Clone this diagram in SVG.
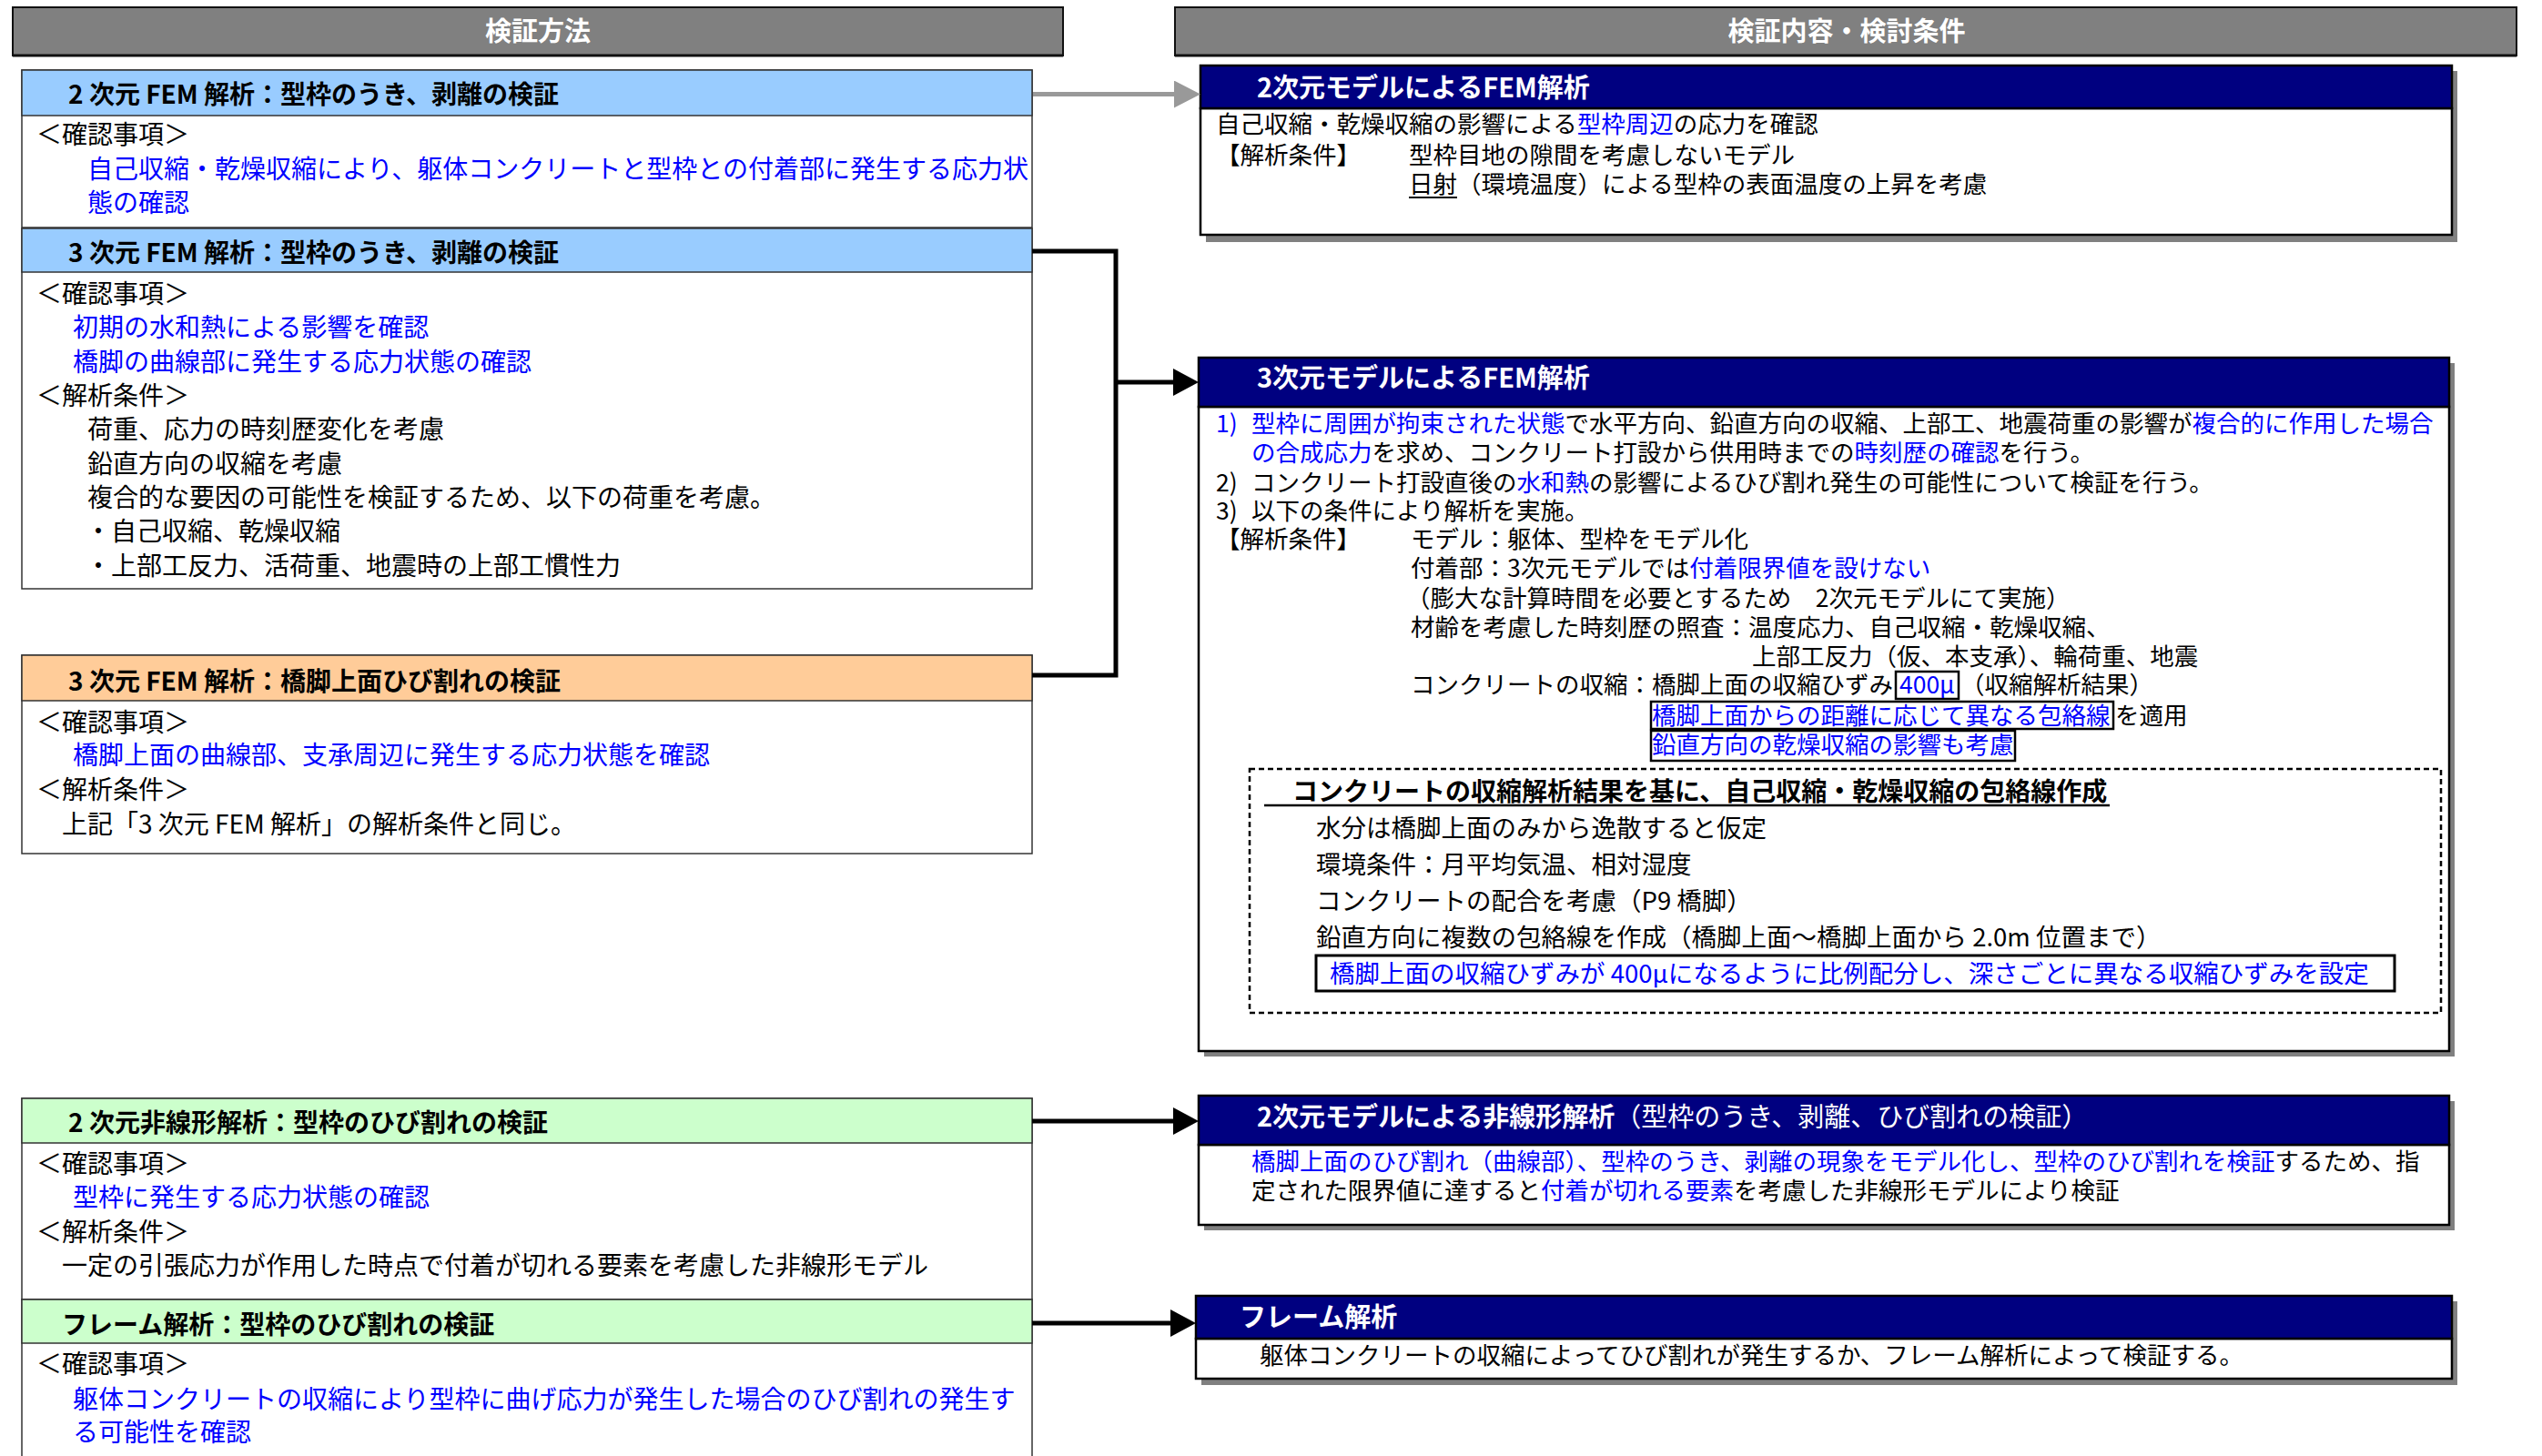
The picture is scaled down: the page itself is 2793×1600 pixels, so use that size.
<svg xmlns="http://www.w3.org/2000/svg" width="2793" height="1600" viewBox="0 0 2793 1600">
<style>
text{font-family:"Noto Sans CJK JP","Noto Sans",sans-serif;fill:#000}
.top{font-size:29px;font-weight:bold;fill:#fff;text-anchor:middle}
.lh{font-size:28px;font-weight:bold}
.lb{font-size:28px}
.rh{font-size:29px;font-weight:bold;fill:#fff}
.rb{font-size:26.5px}
.db{font-size:27.5px}
.dh{font-size:28px;font-weight:bold}
.bl{fill:#0000ff}
.wn{font-weight:normal;fill:#fff}
.bar{fill:#808080;stroke:#111;stroke-width:2}
.lbox{stroke:#333;stroke-width:1.5}
.shadow{fill:#808080}
.navy{fill:#000080;stroke:#000;stroke-width:2.5}
.body{fill:#fff;stroke:#000;stroke-width:2.5}
.frame{fill:none;stroke:#000;stroke-width:2.5}
.conn{fill:none;stroke:#000;stroke-width:5}
</style>
<defs>
<marker id="ah" markerUnits="userSpaceOnUse" markerWidth="28" markerHeight="30" refX="0" refY="15" orient="auto"><path d="M0,0 L28,15 L0,30 Z" fill="#000"/></marker>
<marker id="ahg" markerUnits="userSpaceOnUse" markerWidth="29" markerHeight="30" refX="0" refY="15" orient="auto"><path d="M0,0 L29,15 L0,30 Z" fill="#999"/></marker>
</defs>
<rect width="2793" height="1600" fill="#fff"/>

<g id="header-left">
<rect class="bar" x="14" y="8" width="1154" height="53"/>
<line x1="14" y1="61" x2="1168" y2="61" stroke="#111" stroke-width="3"/>
<text class="top" x="591" y="45">検証方法</text>
</g>
<g id="header-right">
<rect class="bar" x="1291" y="8" width="1474" height="53"/>
<line x1="1291" y1="61" x2="2765" y2="61" stroke="#111" stroke-width="3"/>
<text class="top" x="2029" y="45">検証内容・検討条件</text>
</g>

<g id="box-2d-fem">
<rect class="lbox" x="24" y="77" width="1110" height="173" fill="#fff"/>
<rect class="lbox" x="24" y="77" width="1110" height="50" fill="#99ccff"/>
<text class="lh" x="75" y="114">2 次元 FEM 解析：型枠のうき、剥離の検証</text>
<text class="lb" x="40" y="158">＜確認事項＞</text>
<text class="lb bl" x="96" y="196">自己収縮・乾燥収縮により、躯体コンクリートと型枠との付着部に発生する応力状</text>
<text class="lb bl" x="96" y="233">態の確認</text>
</g>

<g id="box-3d-fem-uki">
<rect class="lbox" x="24" y="251" width="1110" height="396" fill="#fff"/>
<rect class="lbox" x="24" y="251" width="1110" height="48" fill="#99ccff"/>
<text class="lh" x="75" y="288">3 次元 FEM 解析：型枠のうき、剥離の検証</text>
<text class="lb" x="40" y="333">＜確認事項＞</text>
<text class="lb bl" x="80" y="370">初期の水和熱による影響を確認</text>
<text class="lb bl" x="80" y="408">橋脚の曲線部に発生する応力状態の確認</text>
<text class="lb" x="40" y="445">＜解析条件＞</text>
<text class="lb" x="96" y="482">荷重、応力の時刻歴変化を考慮</text>
<text class="lb" x="96" y="520">鉛直方向の収縮を考慮</text>
<text class="lb" x="96" y="557">複合的な要因の可能性を検証するため、以下の荷重を考慮。</text>
<text class="lb" x="94" y="594">・自己収縮、乾燥収縮</text>
<text class="lb" x="94" y="632">・上部工反力、活荷重、地震時の上部工慣性力</text>
</g>

<g id="box-3d-fem-crack">
<rect class="lbox" x="24" y="720" width="1110" height="218" fill="#fff"/>
<rect class="lbox" x="24" y="720" width="1110" height="50" fill="#ffcc99"/>
<text class="lh" x="75" y="759">3 次元 FEM 解析：橋脚上面ひび割れの検証</text>
<text class="lb" x="40" y="804">＜確認事項＞</text>
<text class="lb bl" x="80" y="840">橋脚上面の曲線部、支承周辺に発生する応力状態を確認</text>
<text class="lb" x="40" y="878">＜解析条件＞</text>
<text class="lb" x="68" y="916">上記「3 次元 FEM 解析」の解析条件と同じ。</text>
</g>

<g id="box-2d-nonlinear">
<rect class="lbox" x="24" y="1207" width="1110" height="221" fill="#fff"/>
<rect class="lbox" x="24" y="1207" width="1110" height="49" fill="#ccffcc"/>
<text class="lh" x="75" y="1244">2 次元非線形解析：型枠のひび割れの検証</text>
<text class="lb" x="40" y="1289">＜確認事項＞</text>
<text class="lb bl" x="80" y="1326">型枠に発生する応力状態の確認</text>
<text class="lb" x="40" y="1364">＜解析条件＞</text>
<text class="lb" x="68" y="1401">一定の引張応力が作用した時点で付着が切れる要素を考慮した非線形モデル</text>
</g>

<g id="box-frame">
<rect class="lbox" x="24" y="1428" width="1110" height="190" fill="#fff"/>
<rect class="lbox" x="24" y="1428" width="1110" height="48" fill="#ccffcc"/>
<text class="lh" x="68" y="1466">フレーム解析：型枠のひび割れの検証</text>
<text class="lb" x="40" y="1509">＜確認事項＞</text>
<text class="lb bl" x="80" y="1548">躯体コンクリートの収縮により型枠に曲げ応力が発生した場合のひび割れの発生す</text>
<text class="lb bl" x="80" y="1584">る可能性を確認</text>
</g>

<g id="res-2d-fem">
<rect class="shadow" x="1325" y="78" width="1375" height="188"/>
<rect class="body" x="1319" y="119" width="1375" height="139"/>
<rect class="navy" x="1319" y="72" width="1375" height="47"/>
<text class="rh" x="1381" y="107">2次元モデルによるFEM解析</text>
<text class="rb" x="1336" y="146">自己収縮・乾燥収縮の影響による<tspan class="bl">型枠周辺</tspan>の応力を確認</text>
<text class="rb" x="1336" y="180">【解析条件】</text>
<text class="rb" x="1548" y="180">型枠目地の隙間を考慮しないモデル</text>
<text class="rb" x="1548" y="212">日射（環境温度）による型枠の表面温度の上昇を考慮</text>
<line x1="1548" y1="217" x2="1601" y2="217" stroke="#000" stroke-width="2"/>
</g>

<g id="res-3d-fem">
<rect class="shadow" x="1323" y="399" width="1374" height="762"/>
<rect class="body" x="1317" y="447" width="1374" height="708"/>
<rect class="navy" x="1317" y="393" width="1374" height="54"/>
<text class="rh" x="1381" y="426">3次元モデルによるFEM解析</text>
<text class="rb bl" x="1336" y="475">1)</text>
<text class="rb" x="1375" y="475"><tspan class="bl">型枠に周囲が拘束された状態</tspan>で水平方向、鉛直方向の収縮、上部工、地震荷重の影響が<tspan class="bl">複合的に作用した場合</tspan></text>
<text class="rb" x="1375" y="507"><tspan class="bl">の合成応力</tspan>を求め、コンクリート打設から供用時までの<tspan class="bl">時刻歴の確認</tspan>を行う。</text>
<text class="rb" x="1336" y="540">2)</text>
<text class="rb" x="1375" y="540">コンクリート打設直後の<tspan class="bl">水和熱</tspan>の影響によるひび割れ発生の可能性について検証を行う。</text>
<text class="rb" x="1336" y="571">3)</text>
<text class="rb" x="1375" y="571">以下の条件により解析を実施。</text>
<text class="rb" x="1336" y="602">【解析条件】</text>
<text class="rb" x="1550" y="602">モデル：躯体、型枠をモデル化</text>
<text class="rb" x="1550" y="634">付着部：3次元モデルでは<tspan class="bl">付着限界値を設けない</tspan></text>
<text class="rb" x="1545" y="667">（膨大な計算時間を必要とするため　2次元モデルにて実施）</text>
<text class="rb" x="1550" y="699">材齢を考慮した時刻歴の照査：温度応力、自己収縮・乾燥収縮、</text>
<text class="rb" x="1925" y="731">上部工反力（仮、本支承）、輪荷重、地震</text>
<text class="rb" x="1550" y="762">コンクリートの収縮：橋脚上面の収縮ひずみ</text>
<rect class="frame" x="2083" y="738" width="69" height="30"/>
<text class="rb bl" x="2087" y="762">400μ</text>
<text class="rb" x="2154" y="762">（収縮解析結果）</text>
<rect class="frame" x="1814" y="771" width="508" height="30"/>
<text class="rb bl" x="1815" y="796">橋脚上面からの距離に応じて異なる包絡線</text>
<text class="rb" x="2324" y="796">を適用</text>
<rect class="frame" x="1814" y="803" width="400" height="33"/>
<text class="rb bl" x="1815" y="828">鉛直方向の乾燥収縮の影響も考慮</text>
<rect x="1373" y="845" width="1309" height="268" fill="none" stroke="#000" stroke-width="2.5" stroke-dasharray="6 4"/>
<text class="dh" x="1420" y="880">コンクリートの収縮解析結果を基に、自己収縮・乾燥収縮の包絡線作成</text>
<line x1="1389" y1="885" x2="2318" y2="885" stroke="#000" stroke-width="2.5"/>
<text class="db" x="1446" y="920">水分は橋脚上面のみから逸散すると仮定</text>
<text class="db" x="1446" y="960">環境条件：月平均気温、相対湿度</text>
<text class="db" x="1446" y="1000">コンクリートの配合を考慮（P9 橋脚）</text>
<text class="db" x="1446" y="1040">鉛直方向に複数の包絡線を作成（橋脚上面～橋脚上面から 2.0m 位置まで）</text>
<rect x="1446" y="1050" width="1185" height="39" fill="none" stroke="#000" stroke-width="3"/>
<text class="db bl" x="1461" y="1080">橋脚上面の収縮ひずみが 400μになるように比例配分し、深さごとに異なる収縮ひずみを設定</text>
</g>

<g id="res-2d-nonlinear">
<rect class="shadow" x="1323" y="1210" width="1374" height="142"/>
<rect class="body" x="1317" y="1258" width="1374" height="88"/>
<rect class="navy" x="1317" y="1204" width="1374" height="54"/>
<text class="rh" x="1381" y="1238">2次元モデルによる非線形解析<tspan class="wn">（型枠のうき、剥離、ひび割れの検証）</tspan></text>
<text class="rb" x="1375" y="1286"><tspan class="bl">橋脚上面のひび割れ（曲線部）、型枠のうき、剥離の現象をモデル化し、型枠のひび割れを検証</tspan>するため、指</text>
<text class="rb" x="1375" y="1318">定された限界値に達すると<tspan class="bl">付着が切れる要素</tspan>を考慮した非線形モデルにより検証</text>
</g>

<g id="res-frame">
<rect class="shadow" x="1320" y="1430" width="1380" height="92"/>
<rect class="body" x="1314" y="1471" width="1380" height="44"/>
<rect class="navy" x="1314" y="1424" width="1380" height="47"/>
<text class="rh" x="1362" y="1458">フレーム解析</text>
<text class="rb" x="1384" y="1499">躯体コンクリートの収縮によってひび割れが発生するか、フレーム解析によって検証する。</text>
</g>

<g id="connectors">
<path d="M1135,103.5 H1290" fill="none" stroke="#999" stroke-width="5" marker-end="url(#ahg)"/>
<path class="conn" d="M1134,276 H1226 V742 H1134"/>
<path class="conn" d="M1224,420 H1289" marker-end="url(#ah)"/>
<path class="conn" d="M1134,1232 H1289" marker-end="url(#ah)"/>
<path class="conn" d="M1134,1454 H1286" marker-end="url(#ah)"/>
</g>
</svg>
